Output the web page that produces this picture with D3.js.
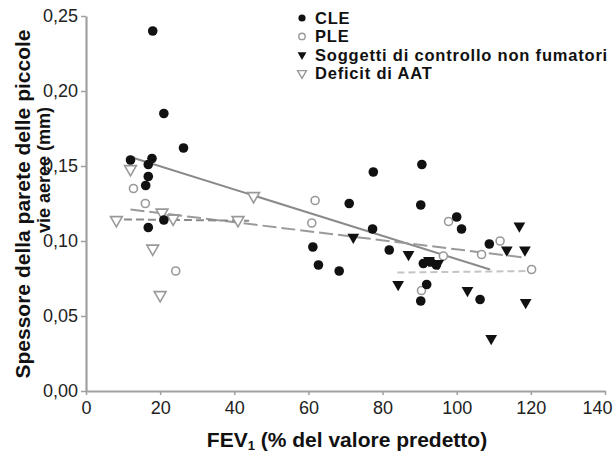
<!DOCTYPE html>
<html>
<head>
<meta charset="utf-8">
<script src="https://cdn.jsdelivr.net/npm/d3@7"></script>
<style>
  body { margin: 0; background: #fff; }
  svg { display: block; font-family: "Liberation Sans", Arial, sans-serif; }
</style>
</head>
<body>
<div id="chart"></div>
<script>
// dati: [FEV1 %, spessore mm]
const cle = [
  [18, 0.240], [21, 0.185], [26.3, 0.162], [12, 0.154], [17.8, 0.155], [16.8, 0.151],
  [16.8, 0.143], [16.1, 0.137], [21, 0.114], [16.8, 0.109],
  [77.5, 0.146], [90.6, 0.151], [71, 0.125], [90.3, 0.124], [77.3, 0.108],
  [61.2, 0.096], [81.8, 0.094], [62.7, 0.084], [68.3, 0.080],
  [91, 0.085], [93, 0.086], [94.5, 0.084], [91.9, 0.071], [90.3, 0.060],
  [100, 0.116], [101.3, 0.108], [108.8, 0.098], [106.3, 0.061]
];
const ple = [
  [12.8, 0.135], [16, 0.125], [24.2, 0.080],
  [61.8, 0.127], [60.9, 0.112], [97.8, 0.113], [96.4, 0.090], [90.5, 0.067],
  [106.7, 0.091], [111.7, 0.100], [120.2, 0.081]
];
const controlli = [
  [72.1, 0.1025], [87, 0.091], [84.2, 0.071], [92.5, 0.087], [95, 0.085],
  [102.9, 0.067], [109.3, 0.035], [113.5, 0.094], [116.9, 0.110], [118.4, 0.094], [118.6, 0.059]
];
const deficitAAT = [
  [12, 0.148], [8.2, 0.114], [20.5, 0.119], [23.5, 0.115], [18, 0.095], [20, 0.064],
  [45.2, 0.130], [41, 0.114]
];

// rette di regressione
const fitCLE = [[12, 0.156], [109, 0.081]];
const fitPLE = [[12, 0.121], [118, 0.089]];
const fitAAT = [[7, 0.1145], [44, 0.1135]];
const fitControlli = [[84, 0.079], [120, 0.080]];

const xTicks = [0, 20, 40, 60, 80, 100, 120, 140];
const yTicks = [0, 0.05, 0.10, 0.15, 0.20, 0.25];

const legenda = ["CLE", "PLE", "Soggetti di controllo non fumatori", "Deficit di AAT"];

const width = 616, height = 453;

const svg = d3.select('#chart').append('svg')
  .attr('width', width)
  .attr('height', height);

const x = d3.scaleLinear().domain([0, 140]).range([86, 605]);
const y = d3.scaleLinear().domain([0, 0.25]).range([391, 16]);

const axisColor = '#a0a0a0';
const fmt = d => d3.format('.2f')(d).replace('.', ',');

// assi
const xAxis = svg.append('g')
  .attr('transform', `translate(0,${y(0)})`)
  .call(d3.axisBottom(x).tickValues(xTicks).tickSize(4).tickPadding(6).tickSizeOuter(0));
xAxis.select('.domain').attr('stroke', axisColor).attr('stroke-width', 2.2);
xAxis.selectAll('.tick line').attr('stroke', axisColor).attr('stroke-width', 1.5);
xAxis.selectAll('.tick text')
  .attr('font-size', 18).attr('fill', '#222')
  .attr('font-family', '"Liberation Sans", Arial, sans-serif')
  .attr('dx', d => d === 140 ? -8 : 0);

const yAxis = svg.append('g')
  .attr('transform', `translate(${x(0)},0)`)
  .call(d3.axisLeft(y).tickValues(yTicks).tickFormat(fmt).tickSize(5).tickPadding(3).tickSizeOuter(0));
yAxis.select('.domain').attr('stroke', axisColor).attr('stroke-width', 2.2);
yAxis.selectAll('.tick line').attr('stroke', axisColor).attr('stroke-width', 1.5);
yAxis.selectAll('.tick text')
  .attr('font-size', 18).attr('fill', '#222')
  .attr('font-family', '"Liberation Sans", Arial, sans-serif');

// rette
const line = d3.line().x(d => x(d[0])).y(d => y(d[1]));
svg.append('path').datum(fitCLE).attr('d', line)
  .attr('fill', 'none').attr('stroke', '#8a8a8a').attr('stroke-width', 2);
svg.append('path').datum(fitPLE).attr('d', line)
  .attr('fill', 'none').attr('stroke', '#9a9a9a').attr('stroke-width', 2)
  .attr('stroke-dasharray', '14,5');
svg.append('path').datum(fitAAT).attr('d', line)
  .attr('fill', 'none').attr('stroke', '#8a8a8a').attr('stroke-width', 2)
  .attr('stroke-dasharray', '8,4');
svg.append('path').datum(fitControlli).attr('d', line)
  .attr('fill', 'none').attr('stroke', '#c4c4c4').attr('stroke-width', 2)
  .attr('stroke-dasharray', '7,4');

// simboli
const tri = d3.symbol().type(d3.symbolTriangle).size(60);

svg.append('g').selectAll('circle')
  .data(ple).enter().append('circle')
  .attr('cx', d => x(d[0])).attr('cy', d => y(d[1])).attr('r', 4)
  .attr('fill', '#fff').attr('stroke', '#999').attr('stroke-width', 1.6);

svg.append('g').selectAll('path')
  .data(deficitAAT).enter().append('path')
  .attr('d', tri)
  .attr('transform', d => `translate(${x(d[0])},${y(d[1])}) rotate(180)`)
  .attr('fill', '#fff').attr('stroke', '#999').attr('stroke-width', 1.6);

svg.append('g').selectAll('path')
  .data(controlli).enter().append('path')
  .attr('d', tri)
  .attr('transform', d => `translate(${x(d[0])},${y(d[1])}) rotate(180)`)
  .attr('fill', '#111');

svg.append('g').selectAll('circle')
  .data(cle).enter().append('circle')
  .attr('cx', d => x(d[0])).attr('cy', d => y(d[1])).attr('r', 4.8)
  .attr('fill', '#111');

// legenda
const leg = svg.append('g').attr('transform', 'translate(302,18)');
const legTri = d3.symbol().type(d3.symbolTriangle).size(34);
legenda.forEach((t, i) => {
  const g = leg.append('g').attr('transform', `translate(0,${i * 18.4})`);
  if (i === 0) g.append('circle').attr('r', 3.6).attr('fill', '#111');
  if (i === 1) g.append('circle').attr('r', 3.2).attr('fill', '#fff').attr('stroke', '#999').attr('stroke-width', 1.4);
  if (i === 2) g.append('path').attr('d', legTri).attr('transform', 'rotate(180)').attr('fill', '#111');
  if (i === 3) g.append('path').attr('d', legTri).attr('transform', 'rotate(180)')
    .attr('fill', '#fff').attr('stroke', '#999').attr('stroke-width', 1.4);
  g.append('text').attr('x', 13).attr('dy', '0.36em')
    .attr('font-size', 16.5).attr('font-weight', 'bold').attr('fill', '#111')
    .attr('letter-spacing', 0.8)
    .text(t);
});

// titoli assi
const xt = svg.append('text')
  .attr('x', 347).attr('y', 447)
  .attr('text-anchor', 'middle')
  .attr('font-size', 21).attr('font-weight', 'bold').attr('fill', '#111');
xt.append('tspan').text('FEV');
xt.append('tspan').attr('font-size', 13).attr('dy', 3).text('1');
xt.append('tspan').attr('dy', -3).text(' (% del valore predetto)');

svg.append('text')
  .attr('transform', 'translate(22,204) rotate(-90)')
  .attr('text-anchor', 'middle').attr('dy', '0.36em')
  .attr('font-size', 21).attr('font-weight', 'bold').attr('fill', '#111')
  .text('Spessore della parete delle piccole');
svg.append('text')
  .attr('transform', 'translate(44,170) rotate(-90)')
  .attr('text-anchor', 'middle').attr('dy', '0.36em')
  .attr('font-size', 18).attr('font-weight', 'bold').attr('fill', '#111')
  .text('vie aeree (mm)');
</script>
</body>
</html>
